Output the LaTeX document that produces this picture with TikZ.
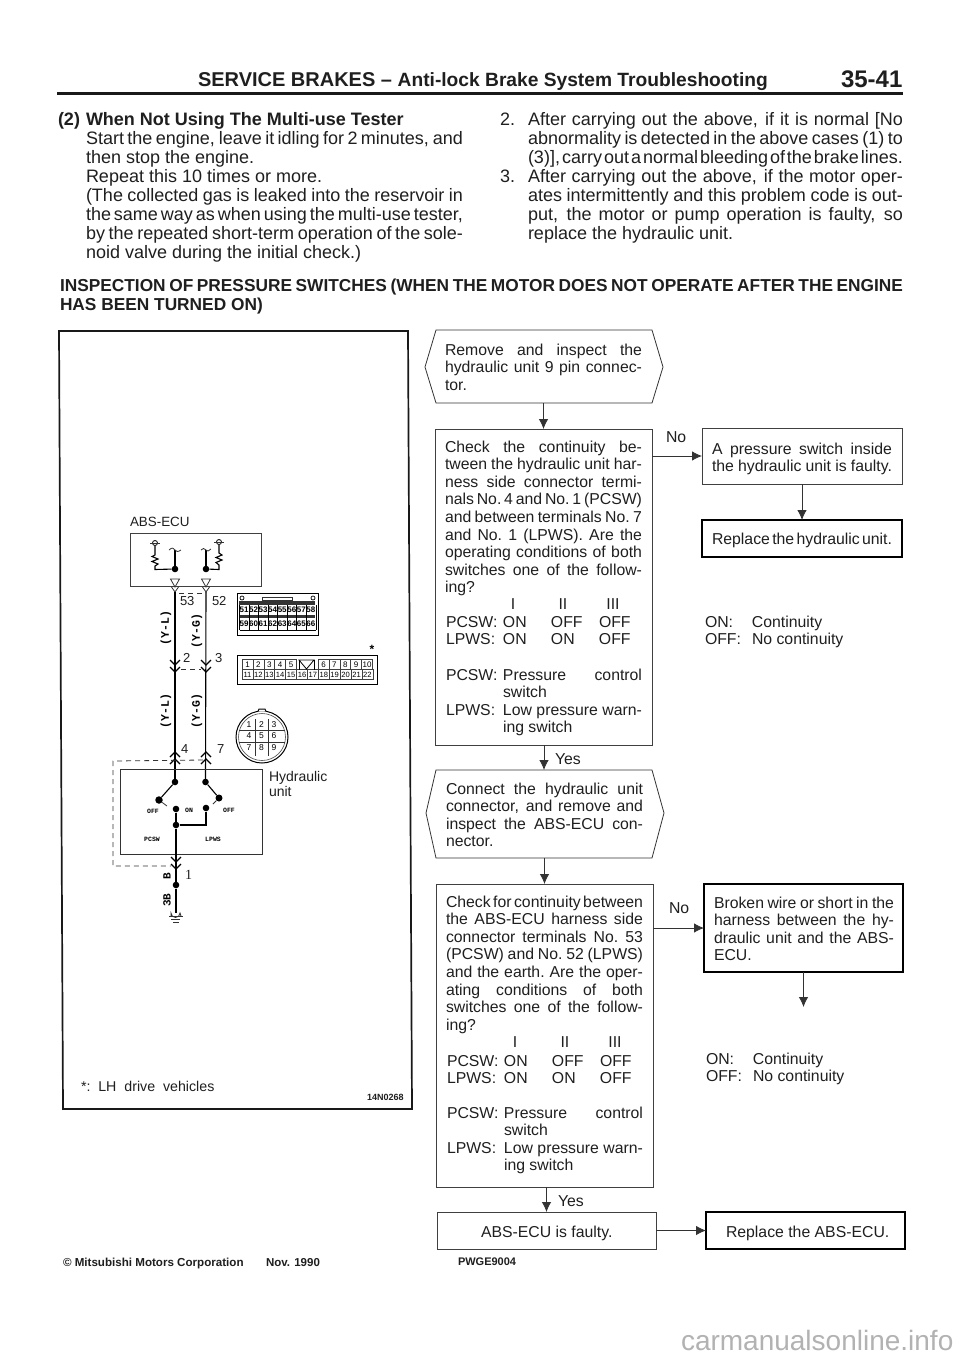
\documentclass[tikz,border=0pt]{standalone}
\usepackage{fontspec}
\setmainfont{Liberation Sans}
\setmonofont{Liberation Mono}
\newfontfamily\serifnum{Liberation Serif}
\usetikzlibrary{arrows.meta}
\newdimen\jw
\newcommand\BK[2]{\vtop{\jw=#1pt\relax #2}}
\newcommand\J[1]{\hbox to\jw{\spaceskip=.06em plus 1fil\xspaceskip=.06em plus 1fil\relax #1}}
\newcommand\N[1]{\hbox{\strut #1}}
\newcommand\ctr[1]{\hbox to0pt{\hss #1\hss}}
\newcommand\TR[4]{\hbox to 57pt{#1\hss}\hbox to 48pt{#2\hss}\hbox to 48pt{#3\hss}\hbox{#4}}
\newcommand\LG[2]{\hbox to 57pt{#1\hss}\hbox to 139pt{\spaceskip=.06em plus 1fil\relax #2}}
\newcommand\wchev[3]{% x, y, direction (+1 = v, -1 = ^)
  \foreach \dd in {0,7}{\draw[wire] (#1-5,{#2-#3*5+#3*\dd}) -- (#1,{#2+#3*\dd}) -- (#1+5,{#2-#3*5+#3*\dd});}}
\tikzset{
  txt/.style={anchor=base west,inner sep=0pt,outer sep=0pt,text=black!88},
  body/.style={txt,font=\fontsize{18}{19.1}\selectfont},
  flow/.style={txt,font=\fontsize{15.8}{17.6}\selectfont},
  lab/.style={txt,font=\fontsize{12}{14.5}\selectfont},
  wirelab/.style={anchor=center,inner sep=0pt,rotate=90,font=\fontsize{11.5}{12}\selectfont\ttfamily\bfseries},
  tiny/.style={anchor=center,inner sep=0pt,font=\fontsize{6.5}{7}\selectfont\ttfamily\bfseries},
  pinb/.style={anchor=center,inner sep=0pt,font=\fontsize{8}{8}\selectfont\bfseries},
  box/.style={draw=black!75,line width=.7pt,anchor=north west,inner sep=0pt,outer sep=0pt},
  endbox/.style={draw=black,line width=1.5pt,anchor=north west,inner sep=0pt,outer sep=0pt},
  hexa/.style={anchor=north west,inner sep=0pt,outer sep=0pt},
  arr/.style={draw=black!80,line width=.8pt,-{Latex[length=10pt,width=9.5pt]}},
  wire/.style={draw=black,line width=1.1pt},
  thinw/.style={draw=black!80,line width=.8pt},
  dsh/.style={draw=black!80,line width=.8pt,dash pattern=on 5pt off 4pt},
  dot/.style={circle,fill=black,inner sep=0pt,minimum size=6.6pt},
}
\begin{document}
\begin{tikzpicture}[x=1pt,y=-1pt]
\useasboundingbox (0,0) rectangle (960,1358);
\fill[white] (0,0) rectangle (960,1358);

% ---------- header
\node[txt,font=\bfseries] (hdr) at (198,86) {\fontsize{20}{20}\selectfont SERVICE BRAKES -- \fontsize{19.2}{20}\selectfont Anti-lock Brake System Troubleshooting};
\node[txt,font=\fontsize{24}{24}\selectfont\bfseries] (pageno) at (841,87) {35-41};
\coordinate (ruleL) at (57,93); \coordinate (ruleR) at (903,93);
\draw[line width=3pt,black!90] (ruleL) -- (ruleR);

% ---------- top text
\node[txt,font=\fontsize{18}{19}\selectfont\bfseries] (t2) at (58,125) {(2)};
\node[txt,font=\fontsize{18}{19}\selectfont\bfseries] (t2h) at (86,125) {When Not Using The Multi-use Tester};
\node[body] (leftp) at (86,144) {\BK{377}{%
 \J{Start the engine, leave it idling for 2 minutes, and}
 \N{then stop the engine.}
 \N{Repeat this 10 times or more.}
 \J{(The collected gas is leaked into the reservoir in}
 \J{the same way as when using the multi-use tester,}
 \J{by the repeated short-term operation of the sole-}
 \N{noid valve during the initial check.)}}};
\node[body] (n2) at (500,125) {2.};
\node[body] (right2) at (528,125) {\BK{375}{%
 \J{After carrying out the above, if it is normal [No}
 \J{abnormality is detected in the above cases (1) to}
 \J{(3)], carry out a normal bleeding of the brake lines.}}};
\node[body] (n3) at (500,182) {3.};
\node[body] (right3) at (528,182) {\BK{375}{%
 \J{After carrying out the above, if the motor oper-}
 \J{ates intermittently and this problem code is out-}
 \J{put, the motor or pump operation is faulty, so}
 \N{replace the hydraulic unit.}}};
\node[txt,font=\fontsize{17.3}{19.4}\selectfont\bfseries] (insp) at (60,291) {\BK{843}{%
 \J{INSPECTION OF PRESSURE SWITCHES (WHEN THE MOTOR DOES NOT OPERATE AFTER THE ENGINE}
 \N{HAS BEEN TURNED ON)}}};

% ---------- left frame
\coordinate (fa) at (59,331); \coordinate (fb) at (408,331);
\coordinate (fc) at (412,1109); \coordinate (fd) at (63,1109);
\draw[line width=1.7pt,black!90] (fa) -- (fb) -- (fc) -- (fd) -- cycle;

% ---------- ABS-ECU
\node[lab,font=\fontsize{13.4}{15}\selectfont] (ecul) at (130,526) {ABS-ECU};
\node[draw=black!75,line width=.8pt,anchor=north west,inner sep=0pt,minimum width=131pt,minimum height=53pt] (ecu) at (130,533) {};
\coordinate (dL) at (175,569); \coordinate (dR) at (206,569);
\node[dot] (dotL) at (dL) {}; \node[dot] (dotR) at (dR) {};
\coordinate (vL) at (155,543); \coordinate (vR) at (219,542);
\node[circle,draw,line width=.8pt,inner sep=0pt,minimum size=5pt] (tL) at (vL) {};
\node[circle,draw,line width=.8pt,inner sep=0pt,minimum size=5pt] (tR) at (vR) {};
\draw[thinw] (150,543) -- (160,543); \draw[thinw] (214,542) -- (224,542);
\draw[wire] (tL) -- (155,555) -- (152,556.5) -- (158,559) -- (152,561.5) -- (158,564) -- (155,566) -- (155,569.5) -- (dotL);
\draw[wire] (tR) -- (219,553) -- (222,555) -- (216,557.5) -- (222,560) -- (216,562.5) -- (219,565) -- (219,569.5) -- (dotR);
\draw[wire] (dotL) -- (175,550);
\draw[thinw] (169,550) .. controls (172,547) and (174,548) .. (175,550) .. controls (176,552) and (178,552) .. (181,550);
\draw[wire] (dotR) -- (206,550);
\draw[thinw] (201,550) .. controls (203,548) and (204,548) .. (206,550) .. controls (207,552) and (209,551) .. (211,549);
\foreach \xx in {175,206}{
  \draw[thinw] (\xx-4.5,579) -- (\xx+4.5,579) -- (\xx,587) -- cycle;
  \draw[thinw] (\xx-3.5,587) -- (\xx,592) -- (\xx+3.5,587);
}
\coordinate (w1a) at (175,592); \coordinate (w2a) at (206,592);
\coordinate (w1b) at (175,782); \coordinate (w2b) at (205.5,782);
\draw[dsh] (179,593) -- (203,593);
\draw[wire] (w1a) -- (w1b); \draw[wire] (w2a) -- (w2b);
\node[lab,font=\fontsize{13}{14}\selectfont] (n53) at (180,605) {53};
\node[lab,font=\fontsize{13}{14}\selectfont] (n52) at (212,605) {52};
\node[wirelab] (wl1) at (166,628) {(Y-L)};
\node[wirelab] (wl2) at (197,631) {(Y-G)};
\wchev{175}{665}{1}\wchev{206}{665}{1}
\node[lab,font=\fontsize{13}{14}\selectfont] (n2w) at (183,662) {2};
\node[lab,font=\fontsize{13}{14}\selectfont] (n3w) at (215,662) {3};
\draw[dsh] (181,669) -- (201,669);
\node[wirelab] (wl3) at (166,711) {(Y-L)};
\node[wirelab] (wl4) at (197,711) {(Y-G)};
\wchev{175}{759}{-1}\wchev{206}{759}{-1}
\node[lab,font=\fontsize{13}{14}\selectfont] (n4w) at (181,753) {4};
\node[lab,font=\fontsize{13}{14}\selectfont] (n7w) at (217,753) {7};
\coordinate (db) at (113,761); \coordinate (dc) at (203,760); \coordinate (dd) at (113,866); \coordinate (de) at (171,866);
\draw[dsh] (dc) -- (db) -- (dd) -- (de);

% ---------- connector 51..66
\node[draw=black,line width=1pt,anchor=north west,inner sep=0pt,minimum width=81pt,minimum height=42pt] (c1) at (236.5,593) {};
\fill[black!80] (239,601) rectangle (315,605);
\fill[black!80] (239,615) rectangle (315,618);
\draw[thinw] (262,597) rectangle (292,600);
\node[circle,draw,line width=.7pt,inner sep=0pt,minimum size=4pt] (c1a) at (242,598) {};
\node[circle,draw,line width=.7pt,inner sep=0pt,minimum size=4pt] (c1b) at (313,598) {};
\foreach \n [count=\i from 0] in {51,...,58}{
  \node[pinb] (p\n) at (244+\i*9.55,610) {\n};
  \draw[line width=1pt] (239.5+\i*9.55,605) -- (239.5+\i*9.55,630);
}
\foreach \n [count=\i from 0] in {59,...,66}{
  \node[pinb] (p\n) at (244+\i*9.55,624) {\n};
}
\draw[line width=1pt] (316,605) -- (316,630);
\draw[line width=.8pt] (239.5,630) -- (316,630);

% ---------- connector 1..22
\node[draw=black,line width=1pt,anchor=north west,inner sep=0pt,minimum width=140pt,minimum height=29pt] (c2) at (237,655) {};
\node[anchor=center,inner sep=0pt,font=\fontsize{12}{12}\selectfont\bfseries] (star) at (372,649) {*};
\foreach \n [count=\i from 0] in {1,...,5}{
  \node[draw=black!75,line width=.6pt,minimum width=10.9pt,minimum height=9.5pt,inner sep=0pt,font=\fontsize{8}{8}\selectfont] (q\n) at (247.5+\i*10.9,664.5) {\n};
}
\foreach \n [count=\i from 0] in {6,...,10}{
  \node[draw=black!75,line width=.6pt,minimum width=10.9pt,minimum height=9.5pt,inner sep=0pt,font=\fontsize{8}{8}\selectfont] (q\n) at (323.5+\i*10.9,664.5) {\n};
}
\foreach \n [count=\i from 0] in {11,...,22}{
  \node[draw=black!75,line width=.6pt,minimum width=10.9pt,minimum height=10pt,inner sep=0pt,font=\fontsize{7.6}{8}\selectfont] (q\n) at (247.5+\i*10.9,674.7) {\n};
}
\draw[line width=.8pt] (299,660) -- (314,660) -- (306.5,669) -- cycle;
\draw[line width=.8pt] (299,660) -- (299,669.5) (314,660) -- (314,669.5);

% ---------- connector 9 pin
\node[circle,draw=black,line width=1pt,inner sep=0pt,minimum size=52pt] (c3) at (262,737) {};
\node[circle,draw=black!70,line width=.6pt,inner sep=0pt,minimum size=47pt] (c3i) at (262,737) {};
\draw[line width=1pt,black,fill=white] (258,711.5) -- (259,709) -- (265,709) -- (266,711.5);
\draw[line width=.6pt,black!80] (255,719) -- (255,756) (268,719) -- (268,756) (239,730.5) -- (285,730.5) (239,742) -- (285,742);
\foreach \n/\xx/\yy in {1/249/725,2/261.5/725,3/274/725,4/249/736,5/261.5/736,6/274/736,7/249/747.5,8/261.5/748,9/274/748}{
  \node[anchor=center,inner sep=0pt,font=\fontsize{8.5}{9}\selectfont] (r\n) at (\xx,\yy) {\n};
}

% ---------- hydraulic unit
\node[draw=black!80,line width=.9pt,anchor=north west,inner sep=0pt,minimum width=142pt,minimum height=85pt] (hu) at (120,769) {};
\node[dot] (s1) at (w1b) {}; \node[dot] (s2) at (w2b) {};
\node[dot,minimum size=7.5pt] (a1) at (159,800) {};
\node[dot,minimum size=7pt] (a2) at (219,798) {};
\node[dot] (k1) at (176,809) {};
\node[dot] (k2) at (206,808) {};
\node[dot] (j) at (176,825) {};
\draw[wire] (s1) -- (a1); \draw[wire] (s2) -- (a2);
\draw[wire] (k1) -- (j); \draw[wire] (j) -- (206,825) -- (k2);
\draw[thinw] (a1) -- (167,806); \draw[thinw] (a2) -- (213,804);
\node[tiny] (off1) at (153,811) {OFF};
\node[tiny] (on1) at (189,810) {ON};
\node[tiny] (off2) at (229,810) {OFF};
\node[tiny] (pcsw) at (152,839) {PCSW};
\node[tiny] (lpws) at (213,839) {LPWS};
\node[lab,font=\fontsize{14}{15}\selectfont] (hl) at (269,781) {\vtop{\hbox{Hydraulic}\hbox{unit}}};
\coordinate (g0) at (176,913);
\node[dot] (g3b) at (176,885) {};
\draw[wire] (j) -- (g3b) -- (g0);
\wchev{176}{862}{1}
\node[txt,font=\fontsize{14}{14}\selectfont\serifnum] (n1w) at (185,879) {1};
\node[wirelab,font=\fontsize{11}{12}\selectfont\ttfamily\bfseries] (wB) at (167,876) {B};
\node[wirelab,font=\fontsize{11}{12}\selectfont\ttfamily\bfseries] (w3B) at (167,900) {3B};
\draw[thinw] (171,916) -- (171,913) arc (180:0:4.5) -- (181,916);
\draw[thinw] (169,916) -- (183,916) (171,919) -- (180,919) (173,922) -- (179,922);
\node[txt,font=\fontsize{14.2}{15}\selectfont] (lh) at (81,1091) {*:\ \ LH\ \ drive\ \ vehicles};
\node[txt,font=\fontsize{9}{9}\selectfont\bfseries] (ref) at (367,1100) {14N0268};

% ---------- flow chart, first half
\node[hexa,minimum width=216pt,minimum height=73pt] (hexA) at (436,330) {};
\draw[thinw] (hexA.north west) -- (hexA.north east) -- ++(11,37) -- (hexA.south east) -- (hexA.south west) -- ++(-11,-36) -- cycle;
\node[flow] (hexAt) at (445,355) {\BK{197}{%
 \J{Remove and inspect the}
 \J{hydraulic unit 9 pin connec-}
 \N{tor.}}};
\node[box,minimum width=217pt,minimum height=316pt] (chkA) at (435,429) {};
\node[flow] (chkAt) at (445,452) {\BK{197}{%
 \J{Check the continuity be-}
 \J{tween the hydraulic unit har-}
 \J{ness side connector termi-}
 \J{nals No. 4 and No. 1 (PCSW)}
 \J{and between terminals No. 7}
 \J{and No. 1 (LPWS). Are the}
 \J{operating conditions of both}
 \J{switches one of the follow-}
 \N{ing?}}};
\node[flow] (romA) at (446,609) {\hbox{\kern67pt\ctr{I}\kern50pt\ctr{II}\kern50pt\ctr{III}}};
\node[flow] (tabA) at (446,627) {\vtop{\hbox{\TR{PCSW:}{ON}{OFF}{OFF}}\hbox{\TR{LPWS:}{ON}{ON}{OFF}}}};
\node[flow] (legA) at (446,680) {\vtop{%
 \hbox{\LG{PCSW:}{Pressure control}}
 \hbox{\kern57pt switch}
 \hbox{\LG{LPWS:}{Low pressure warn-}}
 \hbox{\kern57pt ing switch}}};
\node[box,minimum width=200pt,minimum height=56pt] (fltA) at (702,428) {};
\node[flow] (fltAt) at (712,454) {\BK{180}{%
 \J{A pressure switch inside}
 \J{the hydraulic unit is faulty.}}};
\node[endbox,minimum width=200pt,minimum height=37pt] (repA) at (702,520) {};
\node[flow] (repAt) at (712,544) {\BK{180}{\J{Replace the hydraulic unit.}}};
\node[flow] (noA) at (666,442) {No};
\node[flow] (onA) at (705,627) {\vtop{\hbox{\hbox to 47pt{ON:\hss}Continuity}\hbox{\hbox to 47pt{OFF:\hss}No continuity}}};
\node[flow] (yesA) at (555,764) {Yes};
\draw[arr] (chkA.north |- hexA.south) -- (chkA.north);
\draw[arr] (chkA.east |- fltA.west) -- (fltA.west);
\draw[arr] (fltA.south) -- (repA.north);

% ---------- flow chart, second half
\node[hexa,minimum width=216pt,minimum height=88pt] (hexB) at (436,770) {};
\draw[thinw] (hexB.north west) -- (hexB.north east) -- ++(12,43) -- (hexB.south east) -- (hexB.south west) -- ++(-10,-45) -- cycle;
\node[flow] (hexBt) at (446,794) {\BK{197}{%
 \J{Connect the hydraulic unit}
 \J{connector, and remove and}
 \J{inspect the ABS-ECU con-}
 \N{nector.}}};
\node[box,minimum width=217pt,minimum height=303pt] (chkB) at (436,884) {};
\node[flow] (chkBt) at (446,907) {\BK{197}{%
 \J{Check for continuity between}
 \J{the ABS-ECU harness side}
 \J{connector terminals No. 53}
 \J{(PCSW) and No. 52 (LPWS)}
 \J{and the earth. Are the oper-}
 \J{ating conditions of both}
 \J{switches one of the follow-}
 \N{ing?}}};
\node[flow] (romB) at (447,1047) {\hbox{\kern68pt\ctr{I}\kern50pt\ctr{II}\kern50pt\ctr{III}}};
\node[flow] (tabB) at (447,1066) {\vtop{\hbox{\TR{PCSW:}{ON}{OFF}{OFF}}\hbox{\TR{LPWS:}{ON}{ON}{OFF}}}};
\node[flow] (legB) at (447,1118) {\vtop{%
 \hbox{\LG{PCSW:}{Pressure control}}
 \hbox{\kern57pt switch}
 \hbox{\LG{LPWS:}{Low pressure warn-}}
 \hbox{\kern57pt ing switch}}};
\node[endbox,line width=1.2pt,minimum width=199pt,minimum height=88pt] (brk) at (704,884) {};
\node[flow] (brkt) at (714,908) {\BK{180}{%
 \J{Broken wire or short in the}
 \J{harness between the hy-}
 \J{draulic unit and the ABS-}
 \N{ECU.}}};
\node[flow] (noB) at (669,913) {No};
\path (brk.south) ++(0,35) coordinate (brkEnd);
\node[flow] (onB) at (706,1064) {\vtop{\hbox{\hbox to 47pt{ON:\hss}Continuity}\hbox{\hbox to 47pt{OFF:\hss}No continuity}}};
\node[box,minimum width=219pt,minimum height=37pt] (ecuF) at (437,1212) {};
\node[flow] (ecuFt) at (481,1237) {ABS-ECU is faulty.};
\node[endbox,minimum width=199pt,minimum height=37pt] (repB) at (706,1212) {};
\node[flow] (repBt) at (726,1237) {Replace the ABS-ECU.};
\node[flow] (yesB) at (558,1206) {Yes};
\draw[arr] (hexB.north |- chkA.south) -- (hexB.north);
\draw[arr] (chkB.north |- hexB.south) -- (chkB.north);
\draw[arr] (chkB.east |- brk.west) -- (brk.west);
\draw[arr] (brk.south) -- (brkEnd);
\draw[arr] (ecuF.north |- chkB.south) -- (ecuF.north);
\draw[arr] (ecuF.east) -- (repB.west);

% ---------- footer
\node[txt,font=\fontsize{11.6}{12}\selectfont\bfseries] (copy) at (63,1266) {© Mitsubishi Motors Corporation};
\node[txt,font=\fontsize{11.5}{12}\selectfont\bfseries] (date) at (266,1266) {Nov. 1990};
\node[txt,font=\fontsize{11}{12}\selectfont\bfseries] (code) at (458,1265) {PWGE9004};
\node[txt,text=black!30,font=\fontsize{28}{30}\selectfont] (wm) at (681,1350) {carmanualsonline.info};
\end{tikzpicture}
\end{document}
